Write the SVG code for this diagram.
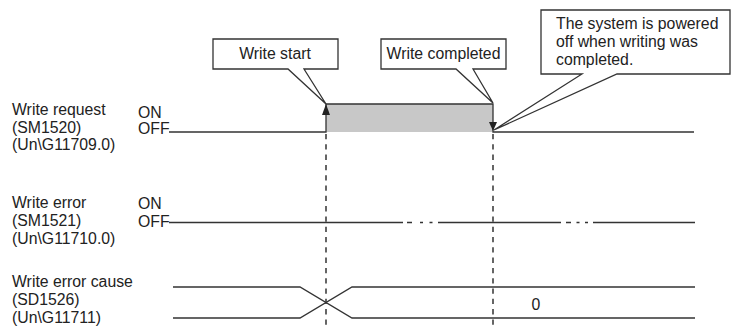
<svg xmlns="http://www.w3.org/2000/svg" width="731" height="327" viewBox="0 0 731 327">
<style>
text{font-family:"Liberation Sans",Arial,sans-serif;font-size:15.8px;fill:#222}
.ln{stroke:#333;stroke-width:1.3;fill:none}
.dash{stroke:#333;stroke-width:1.5;fill:none;stroke-dasharray:5.3 5}
.co{stroke:#333;stroke-width:1.3;fill:#fff;stroke-linejoin:miter}
.mid{text-anchor:middle}
.ah{fill:#222}
</style>
<rect width="731" height="327" fill="#fff"/>
<g id="labels">
<text x="12" y="115">Write request</text>
<text x="12" y="132.5">(SM1520)</text>
<text x="12" y="150">(Un\G11709.0)</text>
<text x="138" y="118">ON</text>
<text x="138" y="133.5">OFF</text>
<text x="12" y="207.5">Write error</text>
<text x="12" y="225.5">(SM1521)</text>
<text x="12" y="243.5">(Un\G11710.0)</text>
<text x="138" y="209">ON</text>
<text x="138" y="227">OFF</text>
<text x="12" y="287">Write error cause</text>
<text x="12" y="305">(SD1526)</text>
<text x="12" y="323">(Un\G11711)</text>
</g>
<g id="connectors">
<line class="dash" x1="326" y1="134" x2="326" y2="327"/>
<line class="dash" x1="493" y1="134" x2="493" y2="327"/>
</g>
<g id="write-request">
<rect x="326" y="104" width="167" height="28" fill="#c8c8c8"/>
<path class="ln" d="M169,132 H326 V104 H493 V132 H694"/>
<polygon class="ah" points="326,104 322,115 330,115"/>
<polygon class="ah" points="493,131 489,122 497,122"/>
</g>
<g id="write-error">
<path class="ln" d="M169,222.5 H403 M438,222.5 H561 M593,222.5 H695"/>
<path class="ln" d="M407,222.5 H412 M420,222.5 H423 M429.5,222.5 H432.5 M566,222.5 H571 M576.5,222.5 H579.5 M585,222.5 H588"/>
</g>
<g id="write-error-cause">
<path class="ln" d="M173,287 H300 L352,318 H695 M173,318 H300 L352,287 H695"/>
<text class="mid" x="536" y="309.5">0</text>
</g>
<g id="callout-write-start">
<path class="co" d="M213,39 H338 V69 H304 L326,104 L288,69 H213 Z"/>
<text class="mid" x="275" y="59">Write start</text>
</g>
<g id="callout-write-completed">
<path class="co" d="M381,39 H506 V69 H473 L493,103 L456,69 H381 Z"/>
<text class="mid" x="443.5" y="59">Write completed</text>
</g>
<g id="callout-powered-off">
<path class="co" d="M541,10 H730 V74 H617 L494,130 L582,74 H541 Z"/>
<text x="556" y="29">The system is powered</text>
<text x="556" y="47">off when writing was</text>
<text x="556" y="65">completed.</text>
</g>
</svg>
